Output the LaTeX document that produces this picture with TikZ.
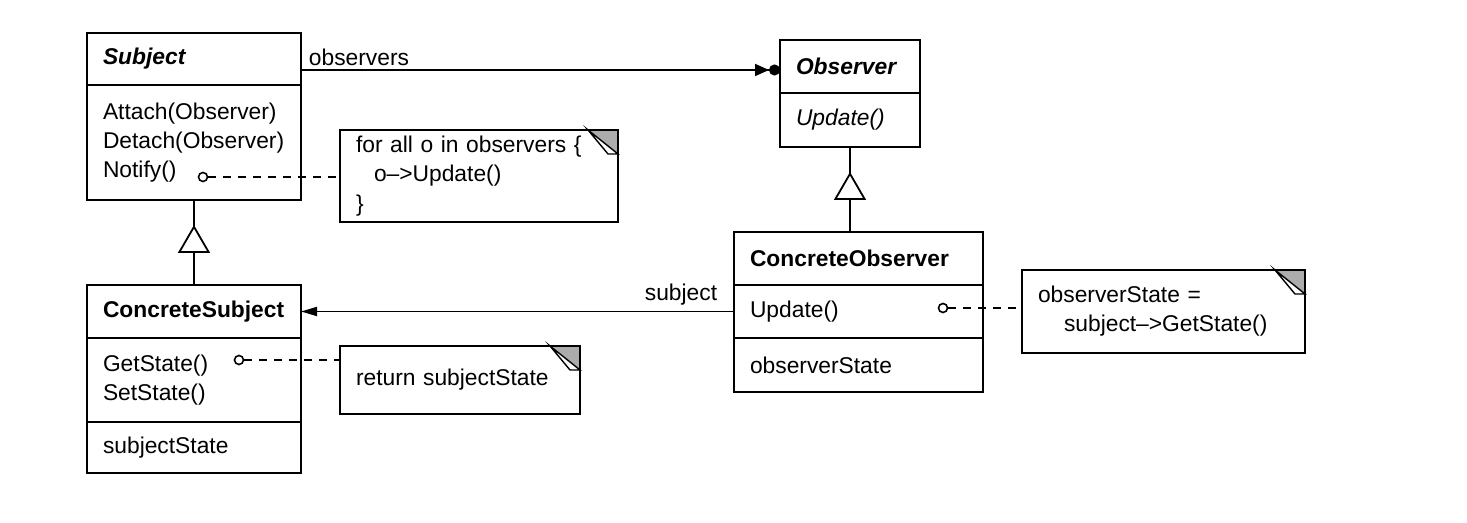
\documentclass[tikz,border=0pt]{standalone}
\usepackage{fontspec}
\setmainfont{Liberation Sans}
\usetikzlibrary{arrows.meta,positioning,decorations.markings}

% folded corner of a note
\newcommand{\dogear}[1]{%
  \fill[gray!65] ([xshift=-15pt]#1.north east) -- (#1.north east) -- ([yshift=-12pt]#1.north east) -- cycle;
  \draw[line width=0.7pt, fill=white] ([xshift=-15pt]#1.north east) -- ([xshift=-5pt,yshift=-12pt]#1.north east) -- ([yshift=-12pt]#1.north east) -- cycle;
  \draw[line width=0.9pt] ([xshift=-15pt]#1.north east) -- (#1.north east) -- ([yshift=-12pt]#1.north east);
}

\begin{document}
\begin{tikzpicture}[
  x=0.5pt, y=-0.5pt,
  every node/.style={font=\fontsize{11.4pt}{14.6pt}\selectfont},
  compartment/.style={draw, line width=0.9pt, outer sep=0pt, inner xsep=8pt, inner ysep=0pt, text width=#1, align=left},
  note/.style={draw, line width=0.9pt, outer sep=0pt, inner xsep=8pt, inner ysep=0pt, text width=#1, align=left, anchor=north west},
  dot/.style={circle, draw, fill=white, line width=0.8pt, minimum size=4.5pt, inner sep=0pt},
  notelink/.style={line width=0.8pt, dash pattern=on 4pt off 3.5pt},
  aggr/.style={line width=0.9pt, -{Triangle[length=7pt,width=6pt] Circle[length=5.5pt]}},
  assoc/.style={line width=0.9pt, -{Triangle[length=8pt,width=4.5pt]}},
  gen/.style={line width=0.9pt, postaction={decorate},
    decoration={markings, mark=at position 0.706 with {\arrow{Triangle[length=14pt,width=16pt,fill=white]}}}}
]
\useasboundingbox (0,0) rectangle (1467,523);

% Subject
\node[compartment=91pt, minimum height=26pt, anchor=north west] (subjhead) at (87,33) {\textbf{\textit{Subject}}};
\node[compartment=91pt, minimum height=57.5pt, below=0pt of subjhead] (subjbody) {Attach(Observer)\\Detach(Observer)\\Notify()};

% ConcreteSubject
\node[compartment=91pt, minimum height=26.5pt, anchor=north west] (cshead) at (87,285) {\textbf{ConcreteSubject}};
\node[compartment=91pt, minimum height=42pt, below=0pt of cshead] (csbody) {GetState()\\SetState()};
\node[compartment=91pt, minimum height=25.5pt, below=0pt of csbody] (csattr) {subjectState};

% Observer
\node[compartment=54pt, minimum height=26.5pt, anchor=north west] (obshead) at (780,40) {\textbf{\textit{Observer}}};
\node[compartment=54pt, minimum height=27pt, below=0pt of obshead] (obsbody) {\textit{Update()}};

% ConcreteObserver
\node[compartment=108.5pt, minimum height=26.5pt, anchor=north west] (cohead) at (734,232) {\textbf{ConcreteObserver}};
\node[compartment=108.5pt, minimum height=26.5pt, below=0pt of cohead] (cobody) {Update()};
\node[compartment=108.5pt, minimum height=27pt, below=0pt of cobody] (coattr) {observerState};

% notes
\node[note=123pt, minimum height=46pt] (forall) at (340,130) {for all o in observers \{\\\hspace*{9pt}o{--}>Update()\\\}};
\node[note=104pt, minimum height=34pt] (retnote) at (340,346) {return subjectState};
\node[note=125.5pt, minimum height=41.5pt] (statenote) at (1022,270) {observerState =\\\hspace*{13pt}subject{--}>GetState()};
\dogear{forall}
\dogear{retnote}
\dogear{statenote}

% note anchors
\node[dot] (notifydot) at (203,177) {};
\node[dot] (gsdot) at (239,360) {};
\node[dot] (updot) at (943,308) {};

\draw[notelink] (notifydot) -- (notifydot -| forall.west);
\draw[notelink] (gsdot) -- (gsdot -| retnote.west);
\draw[notelink] (updot) -- (updot -| statenote.west);

% relations
\coordinate (obsin) at ([yshift=-1.75pt]obshead.west);
\draw[aggr] (subjhead.east |- obsin) -- node[pos=0, anchor=south west, inner xsep=3.5pt, inner ysep=1.5pt] {observers} (obsin);
\draw[assoc] (cobody.west) -- node[pos=0, anchor=south east, inner xsep=8pt, inner ysep=2.6pt] {subject} (cshead.east);
\draw[gen] (cshead.north) -- (subjbody.south);
\draw[gen] (obsbody.south |- cohead.north) -- (obsbody.south);
\end{tikzpicture}
\end{document}
